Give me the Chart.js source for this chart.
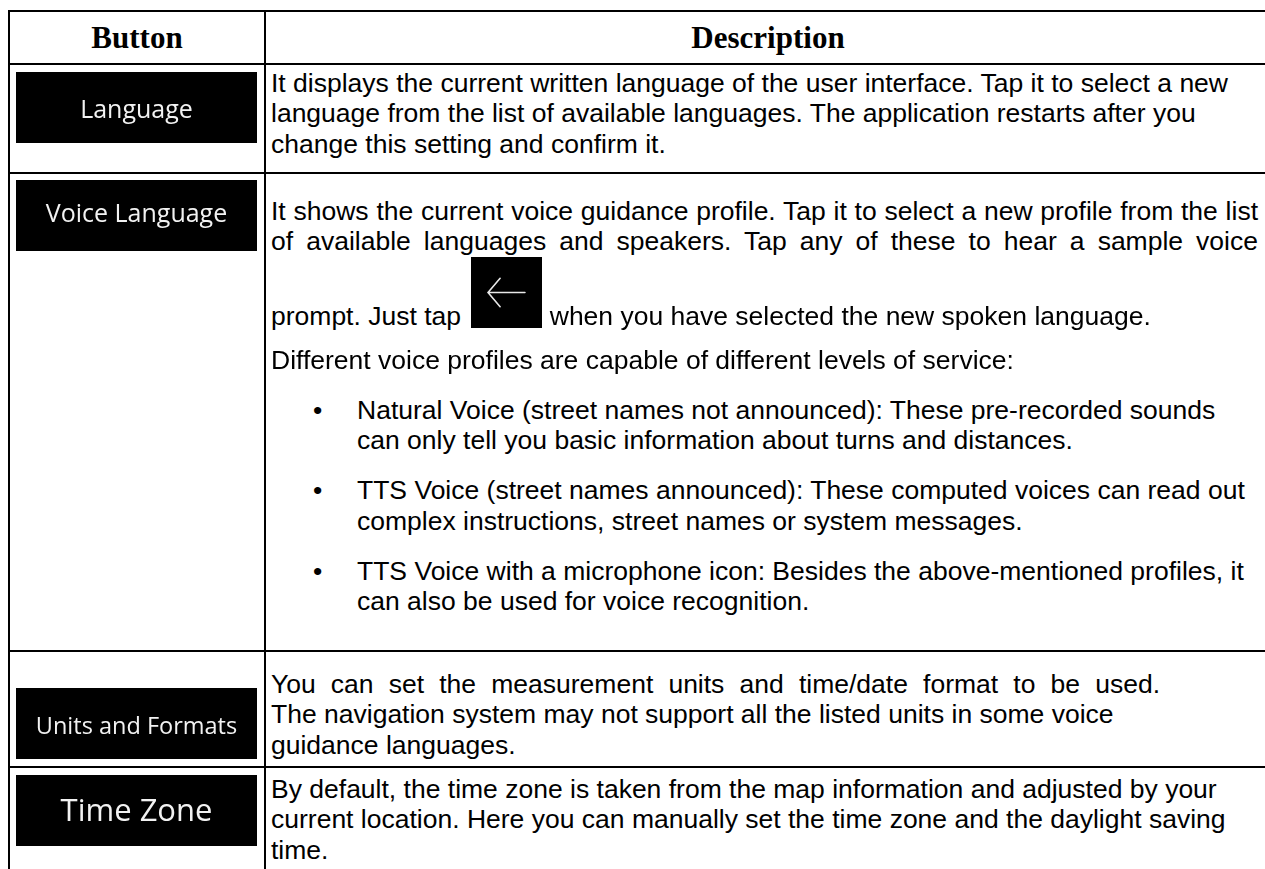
<!DOCTYPE html>
<html>
<head>
<meta charset="utf-8">
<title>Button / Description</title>
<script src="https://cdn.jsdelivr.net/npm/chart.js@4.4.1/dist/chart.umd.min.js"></script>
<style>
  html, body { margin: 0; padding: 0; background: #fff; }
  #page { position: relative; width: 1265px; height: 869px; overflow: hidden; }
  .hl, .vl { position: absolute; background: #000; }
  .hd {
    position: absolute; top: 12px; height: 51px; line-height: 51px; text-align: center;
    font-family: "Liberation Serif", "Times New Roman", serif; font-weight: bold; font-size: 31px; color: #000;
  }
  .txt {
    position: absolute; left: 271px; width: 987px;
    font-family: "Liberation Sans", Arial, sans-serif; font-size: 26.5px; line-height: 30.45px; color: #000;
  }
  .ln { white-space: nowrap; }
  .jl { white-space: normal; text-align: justify; text-align-last: justify; }
  .bl { position: relative; padding-left: 86px; }
  .bu { position: absolute; left: 42px; top: 0; }
  .btn { position: absolute; left: 16px; }
  .ico { display: inline-block; width: 71px; height: 71px; vertical-align: -3px; margin-left: 3px; }
</style>
</head>
<body>
<div id="page"></div>
<script>
// table content
const headers = ["Button", "Description"];
const buttonLabels = ["Language", "Voice Language", "Units and Formats", "Time Zone"];

const languageText = [
  "It displays the current written language of the user interface. Tap it to select a new",
  "language from the list of available languages. The application restarts after you",
  "change this setting and confirm it."
];
const voiceIntro = [
  "It shows the current voice guidance profile. Tap it to select a new profile from the list",
  "of available languages and speakers. Tap any of these to hear a sample voice"
];
const voicePromptBefore = "prompt. Just tap ";
const voicePromptAfter = " when you have selected the new spoken language.";
const voiceLevels = "Different voice profiles are capable of different levels of service:";
const voiceBullets = [
  ["Natural Voice (street names not announced): These pre-recorded sounds",
   "can only tell you basic information about turns and distances."],
  ["TTS Voice (street names announced): These computed voices can read out",
   "complex instructions, street names or system messages."],
  ["TTS Voice with a microphone icon: Besides the above-mentioned profiles, it",
   "can also be used for voice recognition."]
];
const unitsText = [
  "You can set the measurement units and time/date format to be used.",
  "The navigation system may not support all the listed units in some voice",
  "guidance languages."
];
const timeZoneText = [
  "By default, the time zone is taken from the map information and adjusted by your",
  "current location. Here you can manually set the time zone and the daylight saving",
  "time."
];

// layout (grid lines, button boxes)
const rowLines = [10, 63, 172, 650, 766];
const colLines = [8, 264, 1270];
const buttonTops = [72, 180, 688, 775];
const buttonStyles = [
  { font: "25px 'Open Sans'", baseline: 46 },
  { font: "25px 'Open Sans'", baseline: 42 },
  { font: "23.5px 'Open Sans'", baseline: 46 },
  { font: "31px 'Open Sans'", baseline: 46 }
];

const page = document.getElementById("page");

rowLines.forEach((y) => {
  const d = document.createElement("div");
  d.className = "hl";
  d.style.cssText = `left:${colLines[0]}px;top:${y}px;width:${colLines[2] - colLines[0] + 2}px;height:2px`;
  page.appendChild(d);
});
colLines.forEach((x) => {
  const d = document.createElement("div");
  d.className = "vl";
  d.style.cssText = `left:${x}px;top:${rowLines[0]}px;width:2px;height:900px`;
  page.appendChild(d);
});

headers.forEach((h, i) => {
  const d = document.createElement("div");
  d.className = "hd";
  d.textContent = h;
  d.style.left = colLines[i] + 2 + "px";
  d.style.width = colLines[i + 1] - colLines[i] - 2 + "px";
  page.appendChild(d);
});

function textBlock(top) {
  const d = document.createElement("div");
  d.className = "txt";
  d.style.top = top + "px";
  page.appendChild(d);
  return d;
}
function addLine(parent, text, cls) {
  const d = document.createElement("div");
  d.className = cls || "ln";
  d.textContent = text;
  parent.appendChild(d);
  return d;
}

// label drawn on top of the bar
const buttonLabel = {
  id: "buttonLabel",
  afterDatasetsDraw(chart, args, opts) {
    const bar = chart.getDatasetMeta(0).data[0];
    const ctx = chart.ctx;
    ctx.save();
    ctx.fillStyle = "#f2f2f2";
    ctx.font = opts.font;
    ctx.textAlign = "center";
    ctx.textBaseline = "alphabetic";
    ctx.fillText(chart.data.labels[0], (bar.x + bar.base) / 2, bar.y - bar.height / 2 + opts.baseline);
    ctx.restore();
  }
};

// thin back arrow for the inline icon
const backArrow = {
  id: "backArrow",
  afterDatasetsDraw(chart) {
    const bar = chart.getDatasetMeta(0).data[0];
    const ctx = chart.ctx;
    const w = bar.x - bar.base, h = bar.height;
    const x0 = bar.base, y0 = bar.y - h / 2;
    ctx.save();
    ctx.strokeStyle = "#e8e8e8";
    ctx.lineWidth = 1.6;
    ctx.lineCap = "round";
    ctx.beginPath();
    ctx.moveTo(x0 + w * 0.24, y0 + h * 0.5);
    ctx.lineTo(x0 + w * 0.76, y0 + h * 0.5);
    ctx.moveTo(x0 + w * 0.41, y0 + h * 0.3);
    ctx.lineTo(x0 + w * 0.24, y0 + h * 0.5);
    ctx.lineTo(x0 + w * 0.41, y0 + h * 0.7);
    ctx.stroke();
    ctx.restore();
  }
};

function blackBox(canvas, label, plugin, pluginOpts) {
  return new Chart(canvas.getContext("2d"), {
    type: "bar",
    data: {
      labels: [label],
      datasets: [{
        data: [1],
        backgroundColor: "#000",
        borderWidth: 0,
        barPercentage: 1,
        categoryPercentage: 1
      }]
    },
    options: {
      indexAxis: "y",
      responsive: false,
      animation: false,
      events: [],
      layout: { padding: 0 },
      scales: {
        x: { type: "linear", min: 0, max: 1, display: false },
        y: { display: false }
      },
      plugins: {
        legend: { display: false },
        tooltip: { enabled: false },
        buttonLabel: pluginOpts || {}
      }
    },
    plugins: [plugin]
  });
}

buttonLabels.forEach((label, i) => {
  const c = document.createElement("canvas");
  c.width = 241;
  c.height = 71;
  c.className = "btn";
  c.style.top = buttonTops[i] + "px";
  page.appendChild(c);
  blackBox(c, label, buttonLabel, buttonStyles[i]);
});

// Language
const langBlock = textBlock(67.6);
languageText.forEach((t) => addLine(langBlock, t));

// Voice Language
const voiceBlock = textBlock(195.6);
voiceIntro.forEach((t) => addLine(voiceBlock, t, "jl"));
const promptLine = document.createElement("div");
promptLine.className = "ln";
promptLine.appendChild(document.createTextNode(voicePromptBefore));
const iconWrap = document.createElement("span");
iconWrap.className = "ico";
const icon = document.createElement("canvas");
icon.width = 71;
icon.height = 71;
iconWrap.appendChild(icon);
promptLine.appendChild(iconWrap);
promptLine.appendChild(document.createTextNode(voicePromptAfter));
voiceBlock.appendChild(promptLine);
blackBox(icon, "", backArrow);
addLine(voiceBlock, voiceLevels).style.marginTop = "13.6px";
voiceBullets.forEach((lines) => {
  const b = document.createElement("div");
  b.className = "bl";
  b.style.marginTop = "19.6px";
  const dot = document.createElement("span");
  dot.className = "bu";
  dot.textContent = "\u2022";
  b.appendChild(dot);
  lines.forEach((t) => addLine(b, t));
  voiceBlock.appendChild(b);
});

// Units and Formats
const unitsBlock = textBlock(668.6);
addLine(unitsBlock, unitsText[0], "jl").style.width = "889px";
unitsText.slice(1).forEach((t) => addLine(unitsBlock, t));

// Time Zone
const tzBlock = textBlock(773.6);
timeZoneText.forEach((t) => addLine(tzBlock, t));
</script>
</body>
</html>
